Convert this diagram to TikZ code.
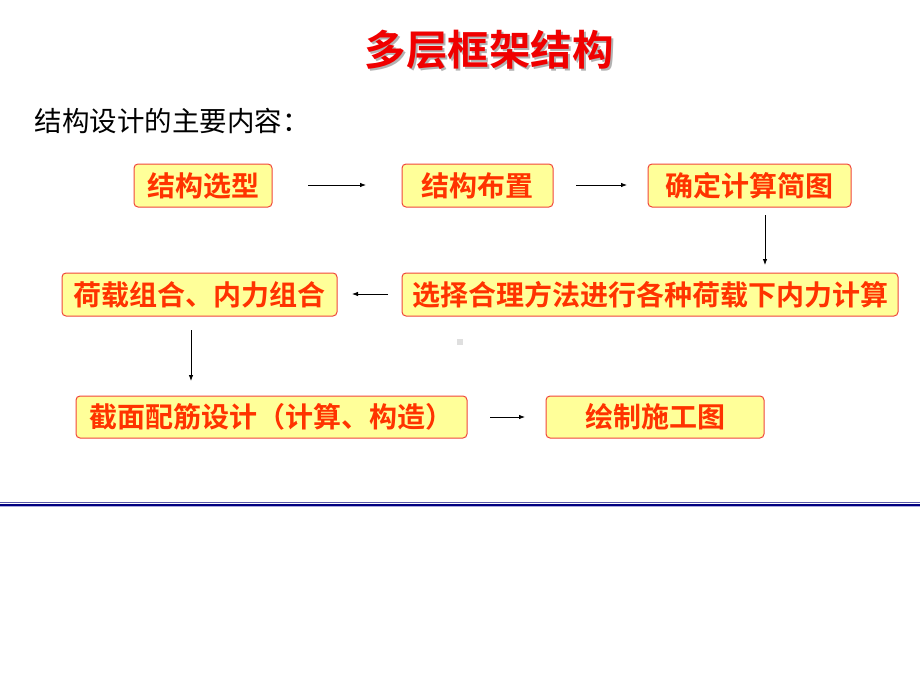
\documentclass[tikz,border=0pt]{standalone}
\usepackage{fontspec}
\newfontfamily\cjk{Noto Sans CJK SC}
\newfontfamily\cjkb{Noto Sans CJK SC Bold}
\usetikzlibrary{arrows.meta}
\definecolor{boxfill}{RGB}{255,255,153}
\definecolor{boxline}{RGB}{240,70,60}
\definecolor{boxtext}{RGB}{255,51,0}
\definecolor{titlered}{RGB}{240,0,0}
\definecolor{lineA}{RGB}{90,90,170}
\definecolor{lineB}{RGB}{0,0,128}
\definecolor{lineC}{RGB}{170,170,220}
\tikzset{
  stepbox/.style={draw=boxline, line width=1pt, fill=boxfill, rounded corners=4pt, inner sep=0pt},
  boxlabel/.style={text=boxtext, font=\cjkb\fontsize{28}{28}\selectfont, anchor=center},
  flow/.style={-{Latex[length=6pt,width=4.5pt]}, line width=0.8pt, black}
}
\begin{document}
\begin{tikzpicture}[x=1pt,y=-1pt]
\useasboundingbox (0,0) rectangle (920,690);
% title with shadow
\node[text=gray!60, font=\cjkb\fontsize{41.5}{41.5}\selectfont] at (491,52) {多层框架结构};
\node (title) [text=titlered, font=\cjkb\fontsize{41.5}{41.5}\selectfont] at (489,50) {多层框架结构};
\node (sub) [anchor=west, font=\cjk\fontsize{27.5}{27.5}\selectfont] at (31,121) {结构设计的主要内容：};
% boxes
\draw[stepbox] (134,164) rectangle (272,207);
\node (b1) [boxlabel] at (203,186) {结构选型};
\draw[stepbox] (402,164) rectangle (553,207);
\node (b2) [boxlabel] at (477.5,186) {结构布置};
\draw[stepbox] (648,164) rectangle (851,207);
\node (b3) [boxlabel] at (749.5,186) {确定计算简图};
\draw[stepbox] (402,273) rectangle (898,316);
\node (b5) [boxlabel] at (650,295) {选择合理方法进行各种荷载下内力计算};
\draw[stepbox] (62,273) rectangle (337,316);
\node (b4) [boxlabel] at (199.5,295) {荷载组合、内力组合};
\draw[stepbox] (76,396) rectangle (467,438);
\node (b6) [boxlabel] at (271.5,417) {截面配筋设计（计算、构造）};
\draw[stepbox] (546,396) rectangle (764,438);
\node (b7) [boxlabel] at (655,417) {绘制施工图};
% arrows
\coordinate (a1s) at (308,185); \coordinate (a1e) at (366,185);
\coordinate (a2s) at (576,185); \coordinate (a2e) at (627,185);
\coordinate (a3s) at (765,215); \coordinate (a3e) at (765,265);
\coordinate (a4s) at (388,294); \coordinate (a4e) at (352,294);
\coordinate (a5s) at (191,330); \coordinate (a5e) at (191,381);
\coordinate (a6s) at (490,417); \coordinate (a6e) at (525,417);
\draw[flow] (a1s) -- (a1e);
\draw[flow] (a2s) -- (a2e);
\draw[flow] (a3s) -- (a3e);
\draw[flow] (a4s) -- (a4e);
\draw[flow] (a5s) -- (a5e);
\draw[flow] (a6s) -- (a6e);
% small gray mark
\fill[gray!25] (457,339) rectangle (463,345);
% bottom lines
\draw[lineA, line width=1.6pt] (0,502.5) -- (920,502.5);
\draw[lineB, line width=1.5pt] (0,505) -- (920,505);
\draw[lineC, line width=0.8pt] (0,506.6) -- (920,506.6);
\end{tikzpicture}
\end{document}
